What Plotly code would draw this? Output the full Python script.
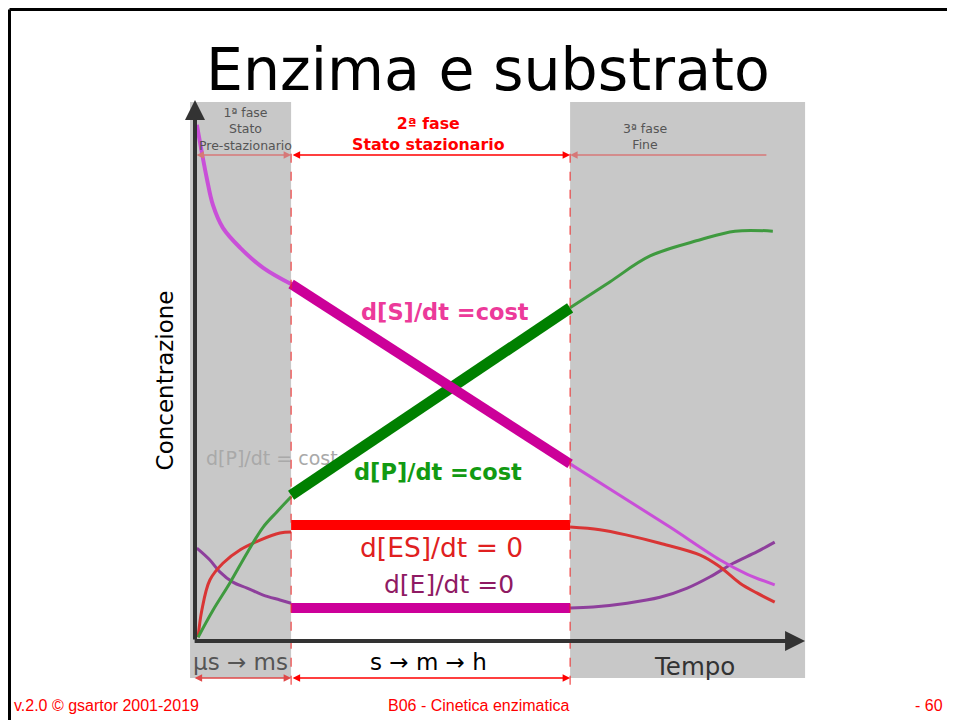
import plotly.graph_objects as go

# Phase boundaries (time units) and chart extents
T_START = 0.0
T_PHASE1_END = 15.5
T_PHASE2_END = 60.5
T_GRAY_END = 98.4
C_GRAY_TOP = 99.8
C_GRAY_BOTTOM = -6.85

# Substrate [S]
s_pre_t = [0.3, 1.9, 2.9, 4.5, 7.3, 11.0, 15.5]
s_pre_c = [95.6, 85.7, 80.7, 76.5, 72.8, 69.1, 66.1]
s_ss_c = [66.1, 32.8]
s_post_t = [60.5, 68.5, 76.6, 84.7, 89.0, 93.5]
s_post_c = [32.8, 27.0, 21.1, 15.0, 12.4, 10.4]

# Product [P]
p_pre_t = [0.5, 2.9, 5.6, 8.4, 11.0, 13.2, 15.5]
p_pre_c = [0.7, 5.7, 10.7, 16.3, 21.1, 23.9, 26.7]
p_ss_c = [27.0, 61.7]
p_post_t = [60.5, 66.9, 73.4, 81.5, 87.1, 93.2]
p_post_c = [61.7, 66.5, 71.3, 74.3, 75.9, 75.9]

# Complex [ES]
es_pre_t = [0.5, 1.1, 2.4, 4.5, 7.3, 10.5, 13.7, 15.5]
es_pre_c = [0.7, 5.7, 11.3, 14.4, 16.9, 18.7, 20.0, 20.2]
es_ss_c = [21.5, 21.5]
es_post_t = [60.5, 65.3, 69.7, 75.0, 81.5, 84.7, 87.9, 90.6, 93.5]
es_post_c = [21.1, 20.6, 19.6, 18.1, 15.9, 13.7, 10.7, 8.9, 7.2]

# Free enzyme [E]
e_pre_t = [0.3, 2.4, 4.0, 6.1, 8.4, 11.0, 13.7, 15.5]
e_pre_c = [17.2, 15.0, 12.8, 10.9, 9.8, 8.5, 7.6, 7.0]
e_ss_c = [6.1, 6.1]
e_post_t = [60.5, 64.2, 69.7, 75.0, 79.4, 83.1, 86.8, 90.6, 93.5]
e_post_c = [6.1, 6.3, 7.0, 8.1, 9.8, 11.9, 14.4, 16.5, 18.3]

ss_t = [T_PHASE1_END, T_PHASE2_END]

FONT = "DejaVu Sans"
GRAY = "#c8c8c8"
W, H = 947, 712  # page body adds an 8px margin


def px(x):  # slide pixel -> paper x
    return (x - 8) / W


def py(y):  # slide pixel -> paper y
    return 1 - (y - 8) / H


fig = go.Figure()

# faded label, drawn first so the green line covers it
fig.add_trace(go.Scatter(x=[12.4], y=[33.5], mode="text", text=["d[P]/dt = cost"],
                         textfont=dict(family=FONT, size=19, color="#a9a9a9"),
                         hoverinfo="skip", showlegend=False))


def thin(t, c, color, w=3):
    fig.add_trace(go.Scatter(x=t, y=c, mode="lines", line=dict(color=color, width=w, shape="spline"),
                             hoverinfo="skip", showlegend=False))


def thick(c, color, w=10):
    fig.add_trace(go.Scatter(x=ss_t, y=c, mode="lines", line=dict(color=color, width=w),
                             hoverinfo="skip", showlegend=False))


thin(e_pre_t, e_pre_c, "#8e3f9c")
thin(e_post_t, e_post_c, "#8e3f9c")
thin(es_pre_t, es_pre_c, "#d93535")
thin(es_post_t, es_post_c, "#d93535")
thin(p_pre_t, p_pre_c, "#3f9a3f")
thin(p_post_t, p_post_c, "#3f9a3f")
thin(s_pre_t, s_pre_c, "#c94fd8", 4)
thin(s_post_t, s_post_c, "#c94fd8", 3)

thick(e_ss_c, "#cc0099", 10)
thick(es_ss_c, "#ff0000", 10)
thick(p_ss_c, "#008000", 11)
thick(s_ss_c, "#cc0099", 10)

shapes = [
    dict(type="rect", xref="x", yref="y", x0=-0.8, x1=T_PHASE1_END, y0=C_GRAY_BOTTOM, y1=C_GRAY_TOP,
         fillcolor=GRAY, line=dict(width=0), layer="below"),
    dict(type="rect", xref="x", yref="y", x0=T_PHASE2_END, x1=T_GRAY_END, y0=C_GRAY_BOTTOM, y1=C_GRAY_TOP,
         fillcolor=GRAY, line=dict(width=0), layer="below"),
    # page frame
    dict(type="line", xref="paper", yref="paper", x0=px(9.5), x1=1, y0=py(9.5), y1=py(9.5),
         line=dict(color="black", width=3)),
    dict(type="line", xref="paper", yref="paper", x0=px(9.5), x1=px(9.5), y0=py(9.5), y1=0,
         line=dict(color="black", width=3)),
]
for tb in [T_PHASE1_END, T_PHASE2_END]:
    shapes.append(dict(type="line", xref="x", yref="y", x0=tb, x1=tb, y0=-8.1, y1=90.7,
                       line=dict(color="#ee2222", width=1, dash="dash")))

annotations = []


def arrow(x_head, x_tail, y, color, both=True, width=1.5):
    annotations.append(dict(x=x_head, y=y, ax=x_tail, ay=y, xref="x", yref="y", axref="x", ayref="y",
                            text="", showarrow=True, arrowhead=2, arrowsize=1, arrowwidth=width,
                            arrowcolor=color, arrowside="end+start" if both else "end"))


# phase span arrows
arrow(T_PHASE1_END, T_START, 90.0, "#d67878")
arrow(T_PHASE2_END, T_PHASE1_END, 90.0, "#ff0000")
arrow(T_PHASE2_END, 92.4, 90.0, "#d67878", both=False)
arrow(T_PHASE1_END, -0.3, -6.85, "#e04848")
arrow(T_PHASE2_END, T_PHASE1_END, -6.85, "#ff0000")

# axes with arrowheads
annotations.append(dict(x=0, y=100.2, ax=0, ay=0, xref="x", yref="y", axref="x", ayref="y", text="",
                        showarrow=True, arrowhead=2, arrowsize=1.0, arrowwidth=4, arrowcolor="#333333"))
annotations.append(dict(x=T_GRAY_END, y=0, ax=-0.3, ay=0, xref="x", yref="y", axref="x", ayref="y", text="",
                        showarrow=True, arrowhead=2, arrowsize=1.0, arrowwidth=4, arrowcolor="#333333"))


def label(x, y, text, size, color, bold=False, **kw):
    annotations.append(dict(x=x, y=y, xref="x", yref="y", text=f"<b>{text}</b>" if bold else text,
                            showarrow=False, xanchor="center", yanchor="middle",
                            font=dict(family=FONT, size=size, color=color), **kw))


label(8.1, 94.8, "1ª fase<br>Stato<br>Pre-stazionario", 12.5, "#555555")
label(37.6, 93.9, "2ª fase<br>Stato stazionario", 15.8, "#ff0000", bold=True)
label(72.6, 93.5, "3ª fase<br>Fine", 12.5, "#555555")
label(40.3, 60.9, "d[S]/dt =cost", 22.5, "#ec3a9a", bold=True)
label(39.2, 31.3, "d[P]/dt =cost", 22.5, "#129a12", bold=True)
label(39.8, 17.4, "d[ES]/dt = 0", 26.5, "#e02020")
label(41.0, 10.4, "d[E]/dt =0", 25, "#8f1a63")
label(7.3, -3.9, "μs → ms", 23, "#555555")
label(37.6, -3.9, "s → m → h", 23, "black")
label(80.6, -4.8, "Tempo", 24.5, "#333333")
label(-4.8, 48.3, "Concentrazione", 23, "black", textangle=-90)

# title and footer
annotations.append(dict(x=px(488), y=py(70), xref="paper", yref="paper", text="Enzima e substrato",
                        xanchor="center", yanchor="middle", showarrow=False,
                        font=dict(family=FONT, size=58.5, color="black")))
footer_font = dict(family="Liberation Sans", size=16, color="#ff0000")
annotations.append(dict(x=px(12), y=py(705), xref="paper", yref="paper", xanchor="left", yanchor="middle",
                        text="v.2.0 © gsartor 2001-2019", showarrow=False, font=footer_font))
annotations.append(dict(x=px(479), y=py(705), xref="paper", yref="paper", xanchor="center", yanchor="middle",
                        text="B06 - Cinetica enzimatica", showarrow=False, font=footer_font))
annotations.append(dict(x=px(913), y=py(705), xref="paper", yref="paper", xanchor="left", yanchor="middle",
                        text="- 60 -", showarrow=False, font=footer_font))

# slide pixel -> data: t = (x - 195) / 6.2, c = (641 - y) / 5.4
fig.update_layout(
    width=W, height=H,
    margin=dict(l=0, r=0, t=0, b=0),
    paper_bgcolor="white", plot_bgcolor="white",
    xaxis=dict(range=[(8 - 195) / 6.2, (955 - 195) / 6.2], visible=False, fixedrange=True),
    yaxis=dict(range=[(641 - 720) / 5.4, (641 - 8) / 5.4], visible=False, fixedrange=True),
    shapes=shapes, annotations=annotations,
    showlegend=False,
)

fig.write_html("out.html")
